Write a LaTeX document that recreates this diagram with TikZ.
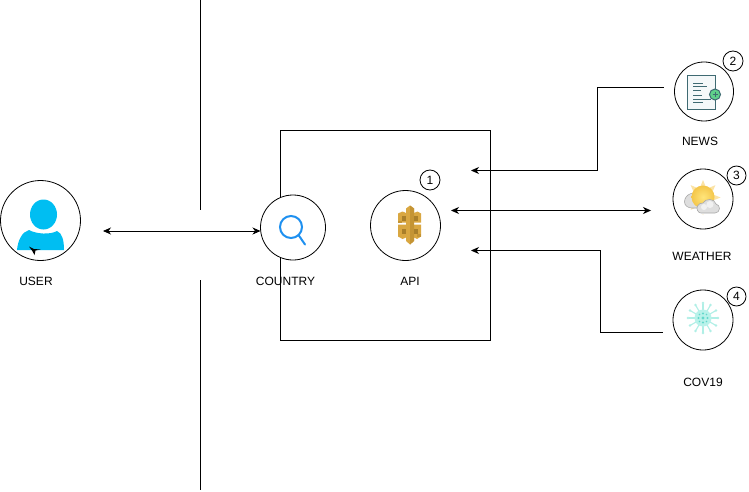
\documentclass[tikz,border=0pt]{standalone}
\usepackage{fontspec}
\setmainfont{Liberation Sans}
\usetikzlibrary{arrows.meta,calc}
\definecolor{userblue}{HTML}{00BEF2}
\definecolor{searchblue}{HTML}{1E90F0}
\definecolor{gold}{HTML}{D9A741}
\definecolor{goldmid}{HTML}{C49434}
\definecolor{golddark}{HTML}{A97F2A}
\definecolor{newsline}{HTML}{3F6A72}
\definecolor{newspage}{HTML}{F4F8F9}
\definecolor{newsgreen}{HTML}{5FD08A}
\definecolor{sunray}{HTML}{FBE3A6}
\definecolor{sunedge}{HTML}{F4C64A}
\definecolor{suncore}{HTML}{FFE57A}
\definecolor{cloudedge}{HTML}{A8A8A8}
\definecolor{cloudfill}{HTML}{DEDEDE}
\definecolor{virus}{HTML}{B0EFE6}
\definecolor{virusbody}{HTML}{B8F2EA}
\definecolor{virusdot}{HTML}{62D8CB}
\tikzset{
  ring/.style={circle,draw=black,fill=white,line width=0.8pt,inner sep=0pt},
  badge/.style={circle,draw=black,fill=white,line width=0.8pt,inner sep=0pt,minimum size=20pt,font=\fontsize{12}{14}\selectfont},
  caption/.style={font=\fontsize{12}{14}\selectfont,inner sep=0pt,text=black},
  link/.style={line width=0.8pt,draw=black},
  tip/.style={{Stealth[length=8pt,width=7pt,inset=2.5pt]}-},
  tips/.style={{Stealth[length=8pt,width=7pt,inset=2.5pt]}-{Stealth[length=8pt,width=7pt,inset=2.5pt]}}
}
\begin{document}
\begin{tikzpicture}[x=1pt,y=-1pt]
\useasboundingbox (0,0) rectangle (749,492);
% divider
\coordinate (d1) at (200.5,0);
\coordinate (d2) at (200.5,210);
\coordinate (d3) at (200.5,280);
\coordinate (d4) at (200.5,490);
\draw[link] (d1) -- (d2);
\draw[link] (d3) -- (d4);
% box
\node[draw=black,line width=0.8pt,minimum width=210pt,minimum height=210pt,inner sep=0pt] (box) at (385.5,235.5) {};
% circles
\node[ring,minimum size=80pt] (user) at (40.5,220.5) {};
\node[ring,minimum size=65pt] (country) at (293,227.5) {};
\node[ring,minimum size=70pt] (api) at (405.5,225.5) {};
\node[ring,minimum size=59pt] (news) at (704,91.5) {};
\node[ring,minimum size=60pt] (weather) at (703,199) {};
\node[ring,minimum size=60pt] (cov) at (703,320) {};
% badges
\node[badge] (b1) at (430,180) {1};
\node[badge] (b2) at (733,61) {2};
\node[badge,minimum size=19pt] (b3) at (736.5,175.5) {3};
\node[badge,minimum size=19pt] (b4) at (736.5,296.5) {4};
% captions
\node[caption] (tuser) at (36,281) {USER};
\node[caption] (tcountry) at (285.5,281) {COUNTRY};
\node[caption] (tapi) at (410,281) {API};
\node[caption] (tnews) at (700,141) {NEWS};
\node[caption] (tweather) at (702,256) {WEATHER};
\node[caption] (tcov) at (703,382) {COV19};
% connector ends
\coordinate (uEnd) at (103,231);
\coordinate (cEnd) at (260.5,231);
\coordinate (aL) at (451,210.5);
\coordinate (aR) at (651,210.5);
\coordinate (nA) at (471,170.5);
\coordinate (nB) at (664,87.5);
\coordinate (cA) at (471,250.5);
\coordinate (cB) at (663,332.5);
\draw[link,tips] (uEnd) -- (cEnd);
\draw[link,tips] (aL) -- (aR);
\draw[link,tip] (nA) -- (597,170.5) -- (597,87.5) -- (nB);
\draw[link,tip] (cA) -- (600.5,250.5) -- (600.5,332.5) -- (cB);
% user icon
\fill[userblue] (43.5,214.5) ellipse (13.5 and 15);
\fill[userblue] (17,250) .. controls (18,240) and (22,232) .. (29,230) .. controls (36,234) and (50,235) .. (57,231) .. controls (62,233) and (64,240) .. (64,250) -- cycle;
\fill[black] (29,246.5) -- (34,249) -- (40.5,249.5) -- (35.5,250.5) -- (34.5,255) -- (32,250.5) -- cycle;
% search icon
\draw[searchblue,line width=2pt] (291,227) circle (11);
\draw[searchblue,line width=2pt,line cap=round] (298.5,235) -- (305,244.5);
% api icon
\fill[gold] (398,213.5) -- (402.5,211.5) -- (406,213) -- (406,208.5) -- (410,205.5) -- (414,208.5) -- (414,213) -- (417.5,211.5) -- (421,213.5) -- (421,222.5) -- (398,222.5) -- cycle;
\fill[gold] (398,224.5) -- (421,224.5) -- (421,236.5) -- (417,239) -- (414,237.5) -- (414,241) -- (410,244.5) -- (406,241) -- (406,237.5) -- (402.5,239) -- (398,236.5) -- cycle;
\fill[gold] (406,222) rectangle (410,225);
\fill[goldmid] (410,205.5) -- (414,208.5) -- (414,241) -- (410,244.5) -- cycle;
\fill[golddark] (402,216) rectangle (406,220.5);
\fill[golddark] (414,216) rectangle (418,220.5);
\fill[golddark] (402,228.5) rectangle (406,233.5);
\fill[golddark] (414,228.5) rectangle (418,233.5);
\fill[goldmid] (398,220.5) rectangle (402,222.5);
\fill[goldmid] (417,233.5) rectangle (421,236.5);
% news icon
\draw[newsline,line width=0.8pt,fill=newspage] (687.5,75.5) rectangle (715,109);
\draw[newsline,line width=0.8pt] (693,83) -- (703,83) (693,86.5) -- (707,86.5) (693,90) -- (701,90) (693,95.5) -- (702,95.5) (693,99) -- (711,99) (693,102.5) -- (703,102.5);
\fill[newsgreen,draw=newsline,line width=1pt] (715,94.5) circle (5.5);
\draw[newsline,line width=0.7pt] (712.5,94.5) -- (717.5,94.5) (715,92) -- (715,97);
% weather icon
\foreach \a in {0,45,...,315}{
  \fill[sunray] ($(703,197.5)+(\a:10)+(\a+90:3)$) -- ($(703,197.5)+(\a:17.5)$) -- ($(703,197.5)+(\a-90:3)+(\a:10)$) -- cycle;
}
\fill[cloudfill,draw=cloudedge,line width=0.6pt] (692,208) to[out=180,in=270] (684.5,202) to[out=90,in=200] (691,193.5) to[out=20,in=180] (698,195) -- (698,208) -- cycle;
\shade[inner color=suncore,outer color=sunedge] (703,197) circle (11.5);
\fill[white] (698,210) rectangle (722,214);
\fill[cloudfill,draw=cloudedge,line width=0.6pt] (701,213) to[out=180,in=240] (697.5,206) to[out=60,in=180] (703,203) to[out=60,in=180] (710,199.5) to[out=0,in=110] (716,204) to[out=-20,in=90] (719.5,208.5) to[out=-90,in=0] (715,213) -- cycle;
\fill[white,opacity=0.6] (704,207) circle (3) (710,204.5) circle (3.5);
% covid icon
\foreach \a in {0,30,...,330}{
  \draw[virus,line width=1.1pt] (703,318) -- ($(703,318)+(\a:14.5)$);
  \fill[virus] ($(703,318)+(\a:15)$) circle (1.4);
}
\fill[virusbody] (703,318) circle (8.5);
\fill[virusdot] (703,318) circle (1.6) (698.5,318) circle (1.1) (707.5,318) circle (1.1) (703,313.5) circle (1.1) (703,322.5) circle (1.1) (699.5,314.5) circle (0.9) (706.5,314.5) circle (0.9) (699.5,321.5) circle (0.9) (706.5,321.5) circle (0.9);
\end{tikzpicture}
\end{document}
